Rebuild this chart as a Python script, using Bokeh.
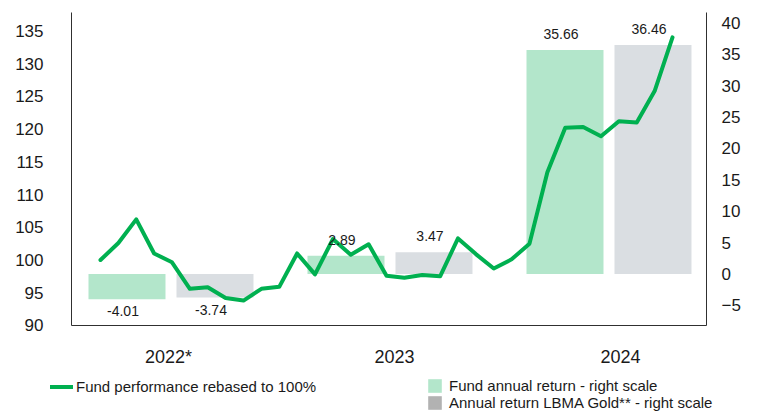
from bokeh.plotting import figure
from bokeh.models import (ColumnDataSource, Range1d, LinearAxis, FixedTicker,
                          LabelSet, Legend, LegendItem)
from bokeh.core.properties import value
from bokeh.embed import file_html
from bokeh.resources import INLINE

# ---------------- data ----------------
YEARS = ["2022*", "2023", "2024"]
FUND_RETURN = [-4.01, 2.89, 35.66]
GOLD_RETURN = [-3.74, 3.47, 36.46]

MONTHS = ["2022-04", "2022-05", "2022-06", "2022-07", "2022-08", "2022-09",
          "2022-10", "2022-11", "2022-12",
          "2023-01", "2023-02", "2023-03", "2023-04", "2023-05", "2023-06",
          "2023-07", "2023-08", "2023-09", "2023-10", "2023-11", "2023-12",
          "2024-01", "2024-02", "2024-03", "2024-04", "2024-05", "2024-06",
          "2024-07", "2024-08", "2024-09", "2024-10", "2024-11", "2024-12"]
FUND_PERF = [100.0, 102.6, 106.2, 101.0, 99.65, 95.6, 95.85, 94.2, 93.8,
             95.6, 95.9, 101.0, 97.8, 103.2, 100.8, 102.4, 97.6, 97.3,
             97.7, 97.5, 103.3, 100.9, 98.7, 100.1, 102.5, 113.4, 120.2,
             120.3, 118.9, 121.2, 121.0, 125.8, 134.0]

LEFT_TICKS = [90, 95, 100, 105, 110, 115, 120, 125, 130, 135]
RIGHT_TICKS = [-5, 0, 5, 10, 15, 20, 25, 30, 35, 40]

LINE_LABEL = "Fund performance rebased to 100%"
FUND_LABEL = "Fund annual return - right scale"
GOLD_LABEL = "Annual return LBMA Gold** - right scale"

# ---------------- style ----------------
FONT = "Liberation Sans"
GREEN = "#00B050"
BAR_GREEN = "#B3E6CB"
BAR_GRAY = "#DADEE2"
LEG_GRAY = "#B2B2B2"
AXIS_COLOR = "#303030"
TEXT_COLOR = "#1a1a1a"

BAR_SHIFT = 0.2009
BAR_W = 0.3516
YEAR_TICK_POS = [-0.011, 1.021, 2.053]

# The whole canvas is the plot frame; the axes sit at fixed positions inside it
# and are bounded to the chart area, so the legends below are not clipped.
LEFT_RANGE = (90, 137.8)        # visible span of the left scale
RIGHT_RANGE = (-8.2, 41.64)     # visible span of the right scale
MONTH_SPAN = (-1.622, 33.90)    # visible span in month index units
GROUP_SPAN = (-0.4543, 2.4452)  # visible span in year-group units

p = figure(width=760, height=412, output_backend="svg", toolbar_location=None,
           x_range=Range1d(-5.594, 36.923), y_range=Range1d(76.71, 139.63),
           x_axis_type=None, y_axis_type=None,
           min_border=0, min_border_left=0, min_border_right=0,
           min_border_top=0, min_border_bottom=0)
p.outline_line_color = None
p.xgrid.visible = False
p.ygrid.visible = False
p.background_fill_color = "white"
p.border_fill_color = "white"

p.extra_y_ranges = {"right": Range1d(-22.05, 43.55)}
p.extra_x_ranges = {"yr": Range1d(-0.7785, 2.6918)}

# ---------------- bars ----------------
gidx = list(range(len(YEARS)))
fund_src = ColumnDataSource(dict(
    x=[g - BAR_SHIFT for g in gidx], top=FUND_RETURN,
    text=["%.2f" % v for v in FUND_RETURN],
    off=[16 if v >= 0 else -12 for v in FUND_RETURN]))
gold_src = ColumnDataSource(dict(
    x=[g + BAR_SHIFT for g in gidx], top=GOLD_RETURN,
    text=["%.2f" % v for v in GOLD_RETURN],
    off=[16 if v >= 0 else -12 for v in GOLD_RETURN]))

fund_bars = p.vbar(x="x", top="top", bottom=0, width=BAR_W, source=fund_src,
                   x_range_name="yr", y_range_name="right",
                   fill_color=BAR_GREEN, line_color=None)
gold_bars = p.vbar(x="x", top="top", bottom=0, width=BAR_W, source=gold_src,
                   x_range_name="yr", y_range_name="right",
                   fill_color=BAR_GRAY, line_color=None)

# legend-only swatch for gold (darker gray than the bars, as in the original)
NAN = float("nan")
gold_proxy = p.vbar(x=[NAN], top=[NAN], bottom=0, width=BAR_W,
                    x_range_name="yr", y_range_name="right",
                    fill_color=LEG_GRAY, line_color=None)

# ---------------- line ----------------
line_src = ColumnDataSource(dict(x=list(range(len(MONTHS))), y=FUND_PERF, m=MONTHS))
perf_line = p.line(x="x", y="y", source=line_src, line_color=GREEN,
                   line_width=4, line_join="round", line_cap="round")

# ---------------- bar labels ----------------
for src in (fund_src, gold_src):
    p.add_layout(LabelSet(x="x", y="top", text="text", source=src,
                          x_range_name="yr", y_range_name="right",
                          x_offset=-4, y_offset="off",
                          text_align="center", text_baseline="middle",
                          text_font=value(FONT), text_font_size=value("14px"),
                          text_color=TEXT_COLOR))

# ---------------- axes ----------------
def style_axis(ax, size):
    ax.major_tick_line_color = None
    ax.minor_tick_line_color = None
    ax.axis_line_color = AXIS_COLOR
    ax.axis_line_width = 1
    ax.major_label_text_font = FONT
    ax.major_label_text_font_size = size
    ax.major_label_text_color = TEXT_COLOR

left = LinearAxis(ticker=FixedTicker(ticks=LEFT_TICKS), bounds=LEFT_RANGE,
                  fixed_location=MONTH_SPAN[0])
style_axis(left, "17px")
left.major_label_standoff = 22
p.add_layout(left, "left")

right = LinearAxis(y_range_name="right", ticker=FixedTicker(ticks=RIGHT_TICKS),
                   bounds=RIGHT_RANGE, fixed_location=MONTH_SPAN[1])
style_axis(right, "17px")
right.major_label_standoff = 9
p.add_layout(right, "right")

bottom = LinearAxis(x_range_name="yr", ticker=FixedTicker(ticks=YEAR_TICK_POS),
                    bounds=GROUP_SPAN, fixed_location=LEFT_RANGE[0],
                    major_label_overrides={t: y for t, y in zip(YEAR_TICK_POS, YEARS)})
style_axis(bottom, "18px")
bottom.major_label_standoff = 16
p.add_layout(bottom, "below")

# ---------------- legends ----------------
def make_legend(items, loc, gw, gh, standoff):
    leg = Legend(items=items, location=loc, orientation="vertical",
                 glyph_width=gw, glyph_height=gh, label_height=gh,
                 label_standoff=standoff, spacing=0,
                 padding=0, margin=0, border_line_color=None,
                 background_fill_alpha=0,
                 label_text_font=FONT, label_text_font_size="15px",
                 label_text_color=TEXT_COLOR)
    p.add_layout(leg, "center")

make_legend([LegendItem(label=LINE_LABEL, renderers=[perf_line])],
            (50, 17.5), 23, 15, 3)
make_legend([LegendItem(label=FUND_LABEL, renderers=[fund_bars]),
             LegendItem(label=GOLD_LABEL, renderers=[gold_proxy])],
            (426, 1.5), 17, 17, 6)

open("out.html", "w").write(file_html(p, INLINE))
